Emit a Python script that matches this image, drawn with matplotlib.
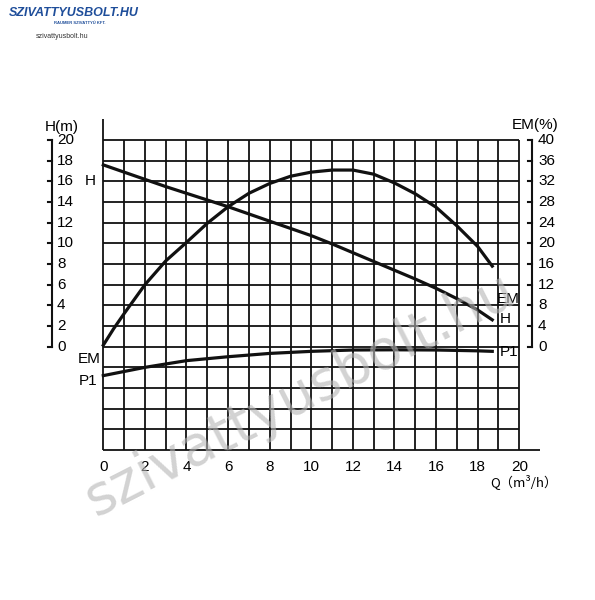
import numpy as np
import matplotlib
matplotlib.use("Agg")
import matplotlib.pyplot as plt

plt.rcParams['font.family'] = ['Liberation Sans', 'DejaVu Sans']

# datos
q_h = [0, 1, 2, 3, 4, 5, 6, 7, 8, 9, 10, 11, 12, 13, 14, 15, 16, 17, 18, 18.7]
h_m = [17.6, 16.9, 16.2, 15.5, 14.85, 14.2, 13.55, 12.85, 12.15, 11.45, 10.75, 9.95,
       9.1, 8.25, 7.4, 6.55, 5.65, 4.65, 3.55, 2.6]
q_em = [0, 0.5, 1, 2, 3, 4, 5, 6, 7, 8, 9, 10, 11, 12, 13, 14, 15, 16, 17, 18, 18.7]
em_pct = [0.3, 3.5, 6.4, 12.0, 16.6, 20.2, 23.9, 27.1, 29.7, 31.6, 33.0, 33.8, 34.2,
          34.2, 33.4, 31.7, 29.6, 27.0, 23.4, 19.4, 15.6]
q_p1 = [0, 2, 4, 6, 8, 10, 12, 14, 16, 18, 18.7]
p1 = [-2.8, -2.0, -1.35, -0.97, -0.65, -0.45, -0.32, -0.3, -0.32, -0.4, -0.45]

h_ticks = [0, 2, 4, 6, 8, 10, 12, 14, 16, 18, 20]
em_ticks = [0, 4, 8, 12, 16, 20, 24, 28, 32, 36, 40]
q_ticks = [0, 2, 4, 6, 8, 10, 12, 14, 16, 18, 20]

fig = plt.figure(figsize=(5.95, 6.0), dpi=100)
ax = fig.add_axes([0, 0, 1, 1])
# mapeo pixel -> datos
ax.set_xlim(-103.3 / 20.8, (595 - 103.3) / 20.8)
ax.set_ylim((346.7 - 600) / 10.33, 346.7 / 10.33)
ax.axis("off")

k = "#111111"
gl = 1.3
# rejilla
for q in range(0, 21):
    top = 22 if q == 0 else 20
    ax.plot([q, q], [-10, top], color=k, lw=gl, solid_capstyle="butt")
for h in range(-10, 21, 2):
    right = 21 if h == -10 else 20
    ax.plot([0, right], [h, h], color=k, lw=gl, solid_capstyle="butt")

# curvas
lw = 2.3
ax.plot(q_h, h_m, color=k, lw=lw)
ax.plot(q_em, np.array(em_pct) / 2, color=k, lw=lw)
ax.plot(q_p1, p1, color=k, lw=lw)

fs = 11
# eje izquierdo H(m)
xl = -2.47
ax.plot([xl, xl], [0, 20], color=k, lw=1.5)
for t in h_ticks:
    ax.plot([xl - 0.2, xl], [t, t], color=k, lw=1.5)
    ax.text(xl + 0.25, t, str(t), fontsize=fs, ha="left", va="center")
ax.text(-1.98, 21.3, "H(m)", fontsize=fs, ha="center", va="center")

# eje derecho EM(%)
xr = 20.6
ax.plot([xr, xr], [0, 20], color=k, lw=1.5)
for t in em_ticks:
    ax.plot([xr - 0.2, xr], [t / 2, t / 2], color=k, lw=1.5)
    ax.text(xr + 0.3, t / 2, str(t), fontsize=fs, ha="left", va="center")
ax.text(20.75, 21.45, "EM(%)", fontsize=fs, ha="center", va="center")

# eje Q
for t in q_ticks:
    ax.text(t, -11.6, str(t), fontsize=fs, ha="center", va="center")
ax.text(18.6, -13.1, "Q（m³/h）", fontsize=9.5, ha="left", va="center",
        family=["Noto Sans CJK SC", "DejaVu Sans"])

# etiquetas de curvas
ax.text(-0.65, 16.0, "H", fontsize=fs, ha="center", va="center")
ax.text(-0.15, -1.2, "EM", fontsize=fs, ha="right", va="center")
ax.text(-0.3, -3.3, "P1", fontsize=fs, ha="right", va="center")
ax.text(18.9, 4.6, "EM", fontsize=fs, ha="left", va="center")
ax.text(19.05, 2.7, "H", fontsize=fs, ha="left", va="center")
ax.text(19.05, -0.5, "P1", fontsize=fs, ha="left", va="center")

# marca de agua
fig.text(0.505, 0.342, "szivattyusbolt.hu", fontsize=40, color="#b5b5b5",
         alpha=0.6, rotation=27, ha="center", va="center", family="DejaVu Sans")

# logo
fig.text(0.015, 0.978, "SZIVATTYUSBOLT.HU", fontsize=9, color="#1f4e9a",
         fontweight="bold", style="italic", ha="left", va="center")
fig.text(0.09, 0.962, "RAUMER SZIVATTYÚ KFT.", fontsize=3, color="#1f4e9a",
         fontweight="bold", ha="left", va="center")
fig.text(0.06, 0.94, "szivattyusbolt.hu", fontsize=5, color="#333333",
         ha="left", va="center")

fig.savefig("out.png", dpi=100)
